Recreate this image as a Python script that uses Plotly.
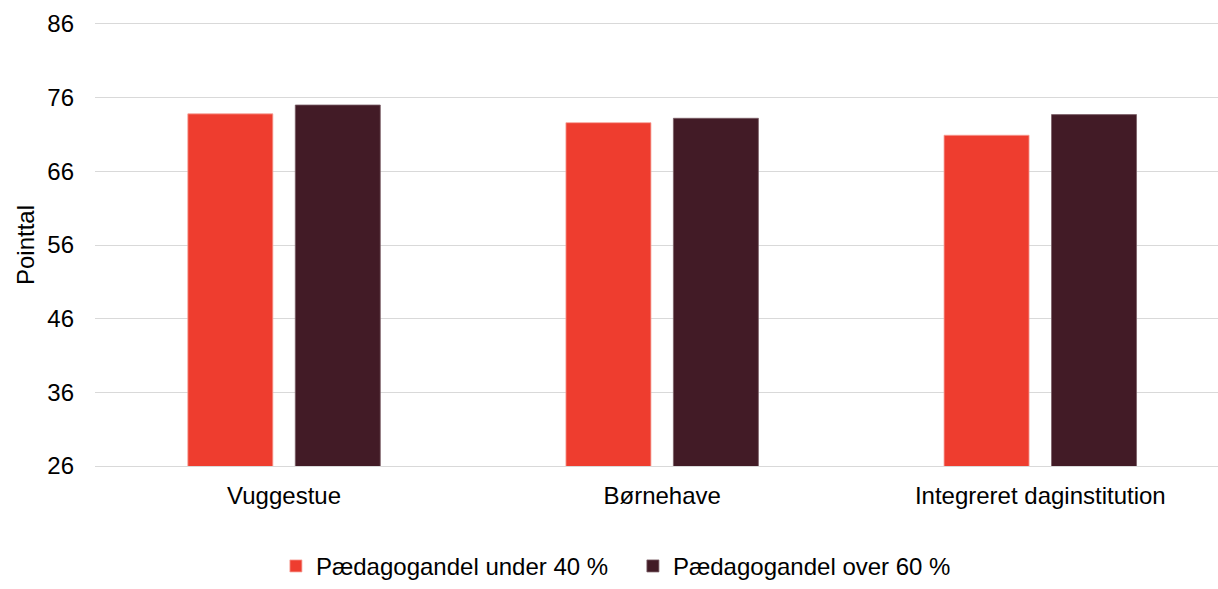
import plotly.graph_objects as go

categories = ["Vuggestue", "Børnehave", "Integreret daginstitution"]
under40 = [73.8, 72.6, 70.9]
over60 = [75.0, 73.2, 73.7]
series_names = ["Pædagogandel under 40 %", "Pædagogandel over 60 %"]
y_ticks = [26, 36, 46, 56, 66, 76, 86]

RED = "#EE3D2F"
DARK = "#421B26"
GRID = "#D9D9D9"
FONT = "Liberation Sans, Arial, sans-serif"

fig = go.Figure()
fig.add_trace(go.Bar(x=categories, y=under40, name=series_names[0],
                     marker=dict(color=RED, line=dict(color="#F6A097", width=0.8))))
fig.add_trace(go.Bar(x=categories, y=over60, name=series_names[1],
                     marker=dict(color=DARK, line=dict(color="#7A5E66", width=0.8))))

fig.update_layout(
    width=1218, height=589,
    margin=dict(l=95, r=0, t=24, b=112),
    paper_bgcolor="white", plot_bgcolor="white",
    barmode="group", bargap=0.4316, bargroupgap=0.209,
    font=dict(family=FONT, size=24, color="#000000"),
    showlegend=True,
    legend=dict(orientation="h", x=0.479, xanchor="center", y=-0.227, yanchor="middle",
                font=dict(size=24), itemwidth=30, traceorder="normal",
                entrywidth=312, entrywidthmode="pixels"),
    annotations=[dict(text="Pointtal", xref="paper", yref="paper", x=-0.0623, y=0.5,
                      textangle=-90, showarrow=False, xanchor="center", yanchor="middle",
                      font=dict(size=24))],
)
fig.update_xaxes(type="category", range=[-0.5, 2.470], showgrid=False,
                 showline=True, mirror=True, linecolor=GRID, linewidth=1.3,
                 zeroline=False, ticks="", ticklabelstandoff=8)
fig.update_yaxes(range=[26, 86], tickvals=y_ticks, showgrid=True, gridcolor=GRID,
                 gridwidth=1.3, zeroline=False, showline=False, ticks="",
                 ticklabelstandoff=20)

fig.write_html("out.html")
